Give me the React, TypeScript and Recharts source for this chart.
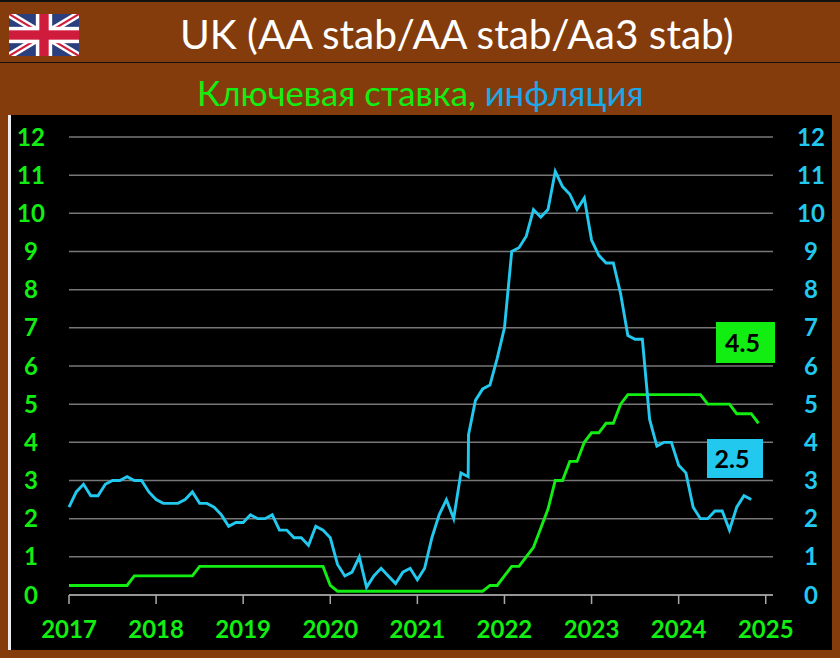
import { LineChart, Line, XAxis, YAxis, CartesianGrid } from "recharts";

// months since Jan 2017; the source sheet has two readings almost on top of each other near 55
const months = [
  0, 1, 2, 3, 4, 5, 6, 7, 8, 9, 10, 11,
  12, 13, 14, 15, 16, 17, 18, 19, 20, 21, 22, 23,
  24, 25, 26, 27, 28, 29, 30, 31, 32, 33, 34, 35,
  36, 37, 38, 39, 40, 41, 42, 43, 44, 45, 46, 47,
  48, 49, 50, 51, 52, 53, 54, 55, 55.05, 56, 57, 58, 59,
  60, 61, 62, 63, 64, 65, 66, 67, 68, 69, 70, 71,
  72, 73, 74, 75, 76, 77, 78, 79, 80, 81, 82, 83,
  84, 85, 86, 87, 88, 89, 90, 91, 92, 93, 94, 95,
];

const yearLabels = ["2017", "2018", "2019", "2020", "2021", "2022", "2023", "2024", "2025"];
const yearTicks = [0, 12, 24, 36, 48, 60, 72, 84, 96];
const valueTicks = [0, 1, 2, 3, 4, 5, 6, 7, 8, 9, 10, 11, 12];

const inflation = [
  2.3, 2.7, 2.9, 2.6, 2.6, 2.9, 3.0, 3.0, 3.1, 3.0, 3.0, 2.7,
  2.5, 2.4, 2.4, 2.4, 2.5, 2.7, 2.4, 2.4, 2.3, 2.1, 1.8, 1.9,
  1.9, 2.1, 2.0, 2.0, 2.1, 1.7, 1.7, 1.5, 1.5, 1.3, 1.8, 1.7,
  1.5, 0.8, 0.5, 0.6, 1.0, 0.2, 0.5, 0.7, 0.5, 0.3, 0.6, 0.7,
  0.4, 0.7, 1.5, 2.1, 2.5, 2.0, 3.2, 3.1, 4.2, 5.1, 5.4, 5.5, 6.2,
  7.0, 9.0, 9.1, 9.4, 10.1, 9.9, 10.1, 11.1, 10.7, 10.5, 10.1, 10.4,
  9.3, 8.9, 8.7, 8.7, 7.9, 6.8, 6.7, 6.7, 4.6, 3.9, 4.0, 4.0,
  3.4, 3.2, 2.3, 2.0, 2.0, 2.2, 2.2, 1.7, 2.3, 2.6, 2.5, null,
];

const keyRate = [
  0.25, 0.25, 0.25, 0.25, 0.25, 0.25, 0.25, 0.25, 0.25, 0.5, 0.5, 0.5,
  0.5, 0.5, 0.5, 0.5, 0.5, 0.5, 0.75, 0.75, 0.75, 0.75, 0.75, 0.75,
  0.75, 0.75, 0.75, 0.75, 0.75, 0.75, 0.75, 0.75, 0.75, 0.75, 0.75, 0.75,
  0.25, 0.1, 0.1, 0.1, 0.1, 0.1, 0.1, 0.1, 0.1, 0.1, 0.1, 0.1,
  0.1, 0.1, 0.1, 0.1, 0.1, 0.1, 0.1, 0.1, 0.1, 0.1, 0.1, 0.25, 0.25,
  0.5, 0.75, 0.75, 1.0, 1.25, 1.75, 2.25, 3.0, 3.0, 3.5, 3.5, 4.0,
  4.25, 4.25, 4.5, 4.5, 5.0, 5.25, 5.25, 5.25, 5.25, 5.25, 5.25, 5.25,
  5.25, 5.25, 5.25, 5.25, 5.0, 5.0, 5.0, 5.0, 4.75, 4.75, 4.75, 4.5,
];

const data = months.map((m, i) => ({ m, inflation: inflation[i], keyRate: keyRate[i] }));

const GREEN = "#12ee12";
const BLUE = "#22c8ee";
const BROWN = "#843c0c";
const FONT = "Lato, sans-serif";

function Flag() {
  return (
    <svg width={70} height={42} viewBox="0 0 60 36" style={{ position: "absolute", left: 9, top: 14 }}>
      <rect width={60} height={36} fill="#2b3f7e" />
      <path d="M0 0L60 36M60 0L0 36" stroke="#fff" strokeWidth={6} />
      <path d="M0 0L60 36M60 0L0 36" stroke="#cf1b3c" strokeWidth={1.8} />
      <rect x={23} width={14} height={36} fill="#fff" />
      <rect y={11} width={60} height={14} fill="#fff" />
      <rect x={26} width={8} height={36} fill="#cf1b3c" />
      <rect y={14} width={60} height={8} fill="#cf1b3c" />
    </svg>
  );
}

function Badge({ text, left, top, width, height, color }: { text: string; left: number; top: number; width: number; height: number; color: string }) {
  return (
    <div
      style={{
        position: "absolute",
        left,
        top,
        width: width - 6,
        paddingRight: 6,
        height,
        lineHeight: height + "px",
        background: color,
        color: "#000",
        textAlign: "center",
        fontFamily: FONT,
        fontWeight: 700,
        fontSize: 25,
      }}
    >
      {text}
    </div>
  );
}

export default function App() {
  return (
    <div style={{ position: "absolute", left: 0, top: 0, width: 840, height: 658, background: BROWN, overflow: "hidden" }}>
      <div style={{ position: "absolute", left: 0, top: 0, width: 840, height: 2, background: "#111" }} />
      <div style={{ position: "absolute", left: 0, top: 62, width: 840, height: 1, background: "#111" }} />
      <Flag />
      <div style={{ position: "absolute", left: 180, top: 9, fontFamily: FONT, fontSize: 40.6, color: "#fff", whiteSpace: "nowrap" }}>
        UK (AA stab/AA stab/Aa3 stab)
      </div>
      <div style={{ position: "absolute", left: 197, top: 72, fontFamily: FONT, fontSize: 34.7, color: GREEN, whiteSpace: "nowrap" }}>
        Ключевая ставка, <span style={{ color: "#1ea7e8" }}>инфляция</span>
      </div>
      <div style={{ position: "absolute", left: 8, top: 115, width: 824, height: 535, background: "#000", borderLeft: "3px solid #eee", boxSizing: "border-box" }} />
      <div style={{ position: "absolute", left: 0, top: 0 }}>
        <LineChart
          width={840}
          height={658}
          data={data}
          margin={{ top: 137, right: 0, bottom: 0, left: 0 }}
        >
          <CartesianGrid yAxisId="left" vertical={false} stroke="#777" strokeWidth={1.5} />
          <XAxis
            dataKey="m"
            type="number"
            domain={[0, 97]}
            ticks={yearTicks}
            tickFormatter={(_v: number, i: number) => yearLabels[i]}
            height={63}
            stroke="#aaa"
            strokeWidth={1.5}
            tickSize={9}
            tick={{ fill: GREEN, fontFamily: FONT, fontWeight: 700, fontSize: 24, dy: 15 }}
            interval={0}
          />
          <YAxis
            yAxisId="left"
            orientation="left"
            domain={[0, 12]}
            ticks={valueTicks}
            interval={0}
            width={69}
            axisLine={false}
            tickLine={false}
            tick={{ fill: GREEN, fontFamily: FONT, fontWeight: 700, fontSize: 24, textAnchor: "middle", dx: -30 }}
          />
          <YAxis
            yAxisId="right"
            orientation="right"
            domain={[0, 12]}
            ticks={valueTicks}
            interval={0}
            width={67}
            axisLine={false}
            tickLine={false}
            tick={{ fill: BLUE, fontFamily: FONT, fontWeight: 700, fontSize: 24, textAnchor: "middle", dx: 30 }}
          />
          <Line yAxisId="left" dataKey="keyRate" stroke={GREEN} strokeWidth={2.9} dot={false} isAnimationActive={false} />
          <Line yAxisId="right" dataKey="inflation" stroke={BLUE} strokeWidth={2.9} dot={false} isAnimationActive={false} />
        </LineChart>
      </div>
      <Badge text="4.5" left={716} top={322} width={59} height={41} color={GREEN} />
      <Badge text="2.5" left={707} top={439} width={56} height={39} color={BLUE} />
    </div>
  );
}
